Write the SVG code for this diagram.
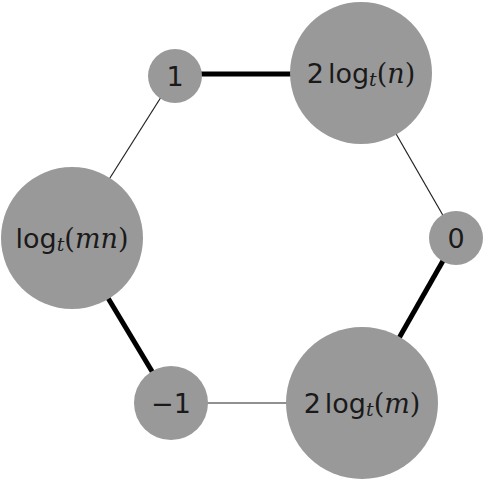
<svg xmlns="http://www.w3.org/2000/svg" width="487" height="484" viewBox="0 0 487 484">
<style>
.n{fill:#999999;stroke:none}
.t{font-family:"DejaVu Sans","Liberation Sans",sans-serif;font-size:27px;fill:#1a1a1a;text-anchor:middle;dominant-baseline:central}
.i{font-family:"DejaVu Serif","Liberation Serif",serif;font-style:italic}
.s{font-family:"DejaVu Serif","Liberation Serif",serif}
.thin{stroke:#222;stroke-width:1.2;fill:none}
.thick{stroke:#000;stroke-width:5;fill:none}
</style>
<rect width="487" height="484" fill="#fff"/>
<g id="edges">
<line class="thick" x1="175" y1="74" x2="361" y2="74"/>
<line class="thin" x1="175" y1="75" x2="72" y2="238"/>
<line class="thin" x1="361" y1="73" x2="456" y2="238"/>
<line class="thick" x1="456" y1="238" x2="362" y2="403"/>
<line class="thin" x1="362" y1="403" x2="171" y2="403"/>
<line class="thick" x1="171" y1="403" x2="72" y2="238"/>
</g>
<g id="node-1">
<circle class="n" cx="175" cy="76" r="27"/>
<text class="t" x="175" y="76">1</text>
</g>
<g id="node-2logn">
<circle class="n" cx="361" cy="73" r="71"/>
<text class="t" x="361" y="73">2<tspan dx="4">log</tspan><tspan class="i" font-size="19" dy="6">t</tspan><tspan class="s" dy="-6">(</tspan><tspan class="i">n</tspan><tspan class="s">)</tspan></text>
</g>
<g id="node-0">
<circle class="n" cx="456" cy="238" r="27"/>
<text class="t" x="456" y="238">0</text>
</g>
<g id="node-2logm">
<circle class="n" cx="362" cy="403" r="76"/>
<text class="t" x="362" y="403">2<tspan dx="4">log</tspan><tspan class="i" font-size="19" dy="6">t</tspan><tspan class="s" dy="-6">(</tspan><tspan class="i">m</tspan><tspan class="s">)</tspan></text>
</g>
<g id="node-minus1">
<circle class="n" cx="171" cy="403" r="37"/>
<text class="t" x="171" y="403">−1</text>
</g>
<g id="node-logmn">
<circle class="n" cx="72" cy="238" r="71"/>
<text class="t" x="72" y="238">log<tspan class="i" font-size="19" dy="6">t</tspan><tspan class="s" dy="-6">(</tspan><tspan class="i">mn</tspan><tspan class="s">)</tspan></text>
</g>
</svg>
